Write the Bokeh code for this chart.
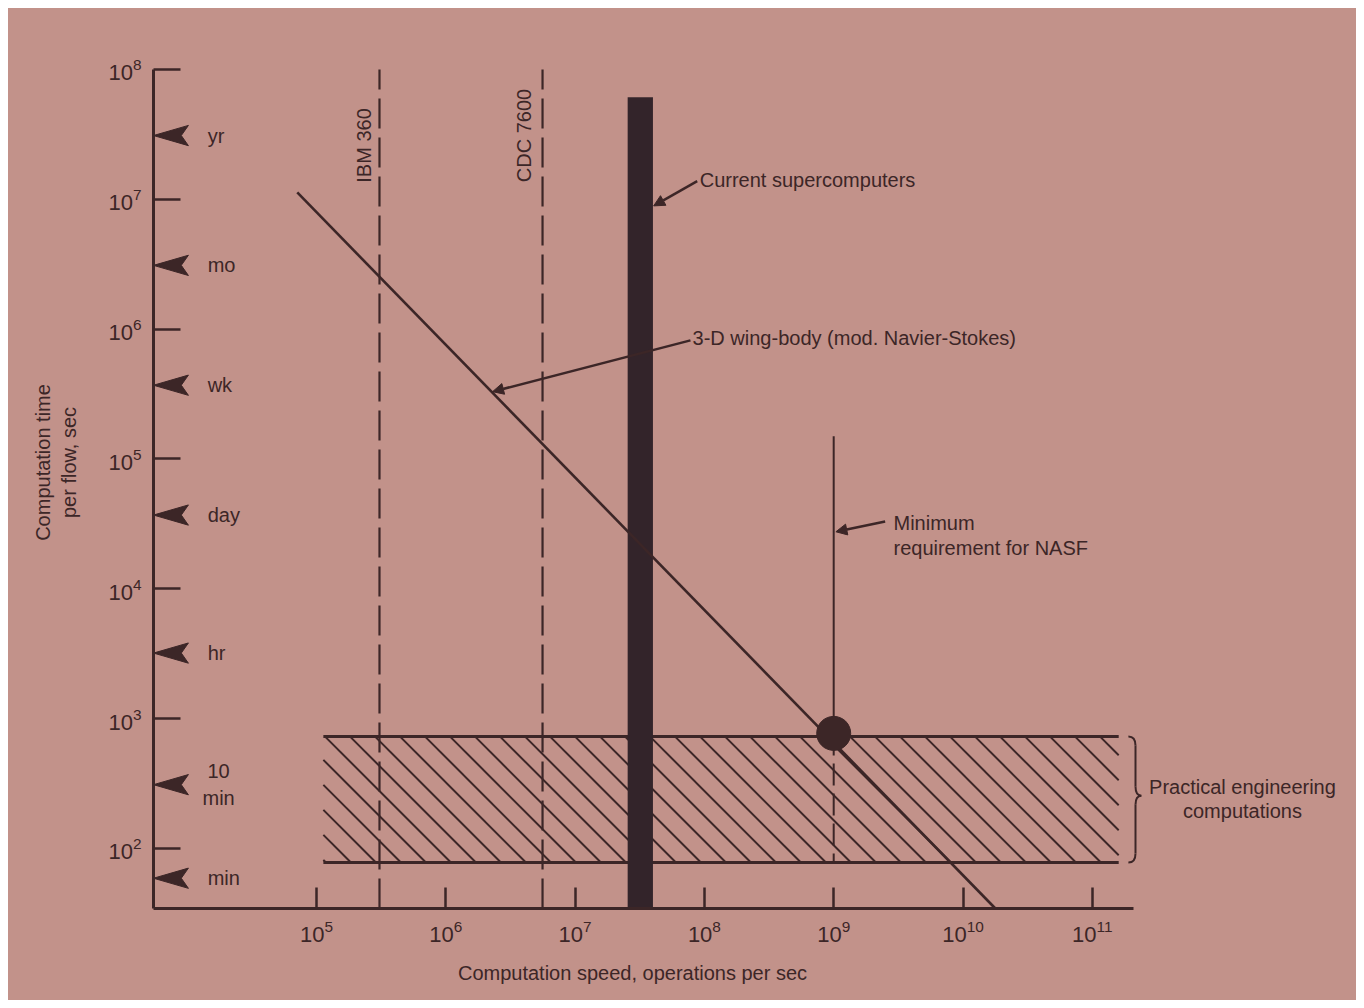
import math
from bokeh.plotting import figure
from bokeh.models import Range1d, FixedTicker, Label, Arrow, NormalHead
from bokeh.core.properties import value
from bokeh.embed import file_html
from bokeh.resources import INLINE

# ---------------- data ----------------
x_ticks = [10**k for k in range(5, 12)]
y_ticks = [10**k for k in range(2, 9)]

time_labels = ["yr", "mo", "wk", "day", "hr", "10\nmin", "min"]
time_values = [3.1e7, 3.1e6, 3.7e5, 3.7e4, 3.2e3, 3.1e2, 59]

machine_names = ["IBM 360", "CDC 7600"]
machine_speeds = [3.07e5, 5.6e6]

super_speed = [2.55e7, 4.0e7]       # current supercomputers band
super_top = 6.1e7

wing_speed = [7.1e4, 1.78e10]       # 3-D wing-body (mod. Navier-Stokes)
wing_time = [1.13e7, 34.5]

nasf_speed = 1e9                    # minimum requirement for NASF
nasf_time_top = 1.5e5
nasf_point_time = 770

eng_speed = [1.13e5, 1.6e11]        # practical engineering computations
eng_time = [78, 730]

# ---------------- layout / style ----------------
BG = "#c2928a"
INK = "#3c2627"
BAR = "#33242a"
FONT = "Liberation Sans"
FS = "20px"
W, H = 1348, 992
KX, KY = 129.3, 129.83               # pixels per decade

x_lo_l, y_hi_l = 2.61794, 8.46984
x_lo, x_hi = 10**x_lo_l, 10**(x_lo_l + W / KX)
y_hi, y_lo = 10**y_hi_l, 10**(y_hi_l - H / KY)
axis_x = 10**3.73937                 # where the y axis stands
axis_y = 10**1.53778                 # where the x axis stands
x_axis_end = 10**11.3186
y_axis_end = 1e8

p = figure(width=W, height=H, x_axis_type="log", y_axis_type="log",
           x_range=Range1d(x_lo, x_hi), y_range=Range1d(y_lo, y_hi),
           output_backend="svg", toolbar_location=None,
           min_border=0, min_border_left=0, min_border_right=0, min_border_top=0, min_border_bottom=0,
           background_fill_color=BG, border_fill_color=BG, outline_line_color=None)
p.margin = (8, 8, 8, 8)
p.styles = {"background-color": BG}
p.grid.visible = False

for ax in (p.xaxis[0], p.yaxis[0]):
    ax.axis_line_color = INK
    ax.axis_line_width = 3
    ax.major_tick_line_color = INK
    ax.major_tick_line_width = 2.5
    ax.minor_tick_line_color = None
    ax.major_tick_out = 0
    ax.major_label_text_font = FONT
    ax.major_label_text_font_size = "22px"
    ax.major_label_text_color = INK
    ax.major_label_standoff = 12

p.xaxis[0].ticker = FixedTicker(ticks=x_ticks)
p.xaxis[0].major_tick_in = 21
p.xaxis[0].fixed_location = axis_y
p.xaxis[0].bounds = (axis_x, x_axis_end)
p.yaxis[0].ticker = FixedTicker(ticks=y_ticks)
p.yaxis[0].major_tick_in = 27
p.yaxis[0].fixed_location = axis_x
p.yaxis[0].bounds = (axis_y, y_axis_end)

# hatched band: 45-degree hatch lines clipped to the band
lx0, lx1 = math.log10(eng_speed[0]), math.log10(eng_speed[1])
lb, lt = math.log10(eng_time[0]), math.log10(eng_time[1])
dx = (lt - lb) * KY / KX
step = 25 / KX
hx0, hy0, hx1, hy1 = [], [], [], []
c = lx0 - dx + 0.02
while c < lx1:
    t0 = max(0.0, (lx0 - c) / dx)
    t1 = min(1.0, (lx1 - c) / dx)
    if t1 > t0:
        hx0.append(10**(c + t0 * dx)); hy0.append(10**(lt - t0 * (lt - lb)))
        hx1.append(10**(c + t1 * dx)); hy1.append(10**(lt - t1 * (lt - lb)))
    c += step
p.segment(x0=hx0, y0=hy0, x1=hx1, y1=hy1, line_color=INK, line_width=2)
p.segment(x0=[eng_speed[0]] * 2, x1=[eng_speed[1]] * 2, y0=eng_time, y1=eng_time,
          line_color=INK, line_width=3)

# machine dashed lines
p.segment(x0=machine_speeds, x1=machine_speeds, y0=[axis_y] * 2, y1=[y_axis_end] * 2,
          line_color=INK, line_width=2.2, line_dash="30 9")

# supercomputer bar
p.quad(left=[super_speed[0]], right=[super_speed[1]], bottom=[axis_y], top=[super_top],
       fill_color=BAR, line_color=None)

# wing-body line
p.line(wing_speed, wing_time, line_color=INK, line_width=2.6)

# NASF line and point
p.segment(x0=[nasf_speed], x1=[nasf_speed], y0=[nasf_time_top], y1=[nasf_point_time],
          line_color=INK, line_width=2)
p.segment(x0=[nasf_speed], x1=[nasf_speed], y0=[nasf_point_time], y1=[eng_time[0]],
          line_color=INK, line_width=2, line_dash="22 8")
p.scatter([nasf_speed], [nasf_point_time], size=34, fill_color=INK, line_color=INK)

# time markers on the y axis (arrowheads)
xs, ys = [], []
for t in time_values:
    xs.append([axis_x, axis_x * 10**0.27, axis_x * 10**0.215, axis_x * 10**0.27])
    ys.append([t, t * 10**0.078, t, t / 10**0.078])
p.patches(xs, ys, fill_color=INK, line_color=INK, line_width=1)

left_idx = [i for i, s in enumerate(time_labels) if "\n" not in s]
mid_idx = [i for i, s in enumerate(time_labels) if "\n" in s]
p.text(x=[1.44e4] * len(left_idx), y=[time_values[i] for i in left_idx],
       text=[time_labels[i] for i in left_idx], text_font=value(FONT), text_font_size=FS,
       text_color=INK, text_align="left", text_baseline="middle")
p.text(x=[1.75e4] * len(mid_idx), y=[time_values[i] for i in mid_idx],
       text=[time_labels[i] for i in mid_idx], text_font=value(FONT), text_font_size=FS,
       text_color=INK, text_align="center", text_baseline="middle", text_line_height=1.2)

# brace
r = eng_speed[1]
bh, bs, bt = r * 10**0.075, r * 10**0.13, r * 10**0.175
lm = lb + 0.53 * (lt - lb)
d = 0.07
p.quadratic(x0=[bh, bs, bt, bs], y0=[10**lt, 10**(lm + d), 10**lm, 10**(lb + d)],
            x1=[bs, bt, bs, bh], y1=[10**(lt - d), 10**lm, 10**(lm - d), 10**lb],
            cx=[bs, bs, bs, bs], cy=[10**lt, 10**lm, 10**lm, 10**lb],
            line_color=INK, line_width=2)
p.segment(x0=[bs, bs], x1=[bs, bs], y0=[10**(lt - d), 10**(lm - d)], y1=[10**(lm + d), 10**(lb + d)],
          line_color=INK, line_width=2)

# arrows
def arrow(xs_, ys_, xe, ye):
    p.add_layout(Arrow(end=NormalHead(size=11, fill_color=INK, line_color=INK),
                       x_start=xs_, y_start=ys_, x_end=xe, y_end=ye,
                       line_color=INK, line_width=2.5))

arrow(8.8e7, 1.38e7, 4.05e7, 8.9e6)
arrow(7.8e7, 8.2e5, 2.3e6, 3.3e5)
arrow(2.5e9, 3.3e4, 1.04e9, 2.75e4)

def label(x, y, text, align="left", angle=0.0):
    p.add_layout(Label(x=x, y=y, text=text, text_font=FONT, text_font_size=FS,
                       text_color=INK, text_align=align, text_baseline="middle", angle=angle))

label(9.2e7, 1.42e7, "Current supercomputers")
label(8.1e7, 8.5e5, "3-D wing-body (mod. Navier-Stokes)")
label(2.9e9, 3.24e4, "Minimum")
label(2.9e9, 2.08e4, "requirement for NASF")
label(1.45e12, 295, "Practical engineering", align="center")
label(1.45e12, 196, "computations", align="center")
label(2.31e5, 2.6e7, machine_names[0], align="center", angle=math.pi / 2)
label(4.06e6, 3.1e7, machine_names[1], align="center", angle=math.pi / 2)
label(10**2.8886, 9.4e4, "Computation time", align="center", angle=math.pi / 2)
label(10**3.0897, 9.4e4, "per flow, sec", align="center", angle=math.pi / 2)
label(2.78e7, 10.9, "Computation speed, operations per sec", align="center")

open("out.html", "w").write(file_html(p, INLINE))
